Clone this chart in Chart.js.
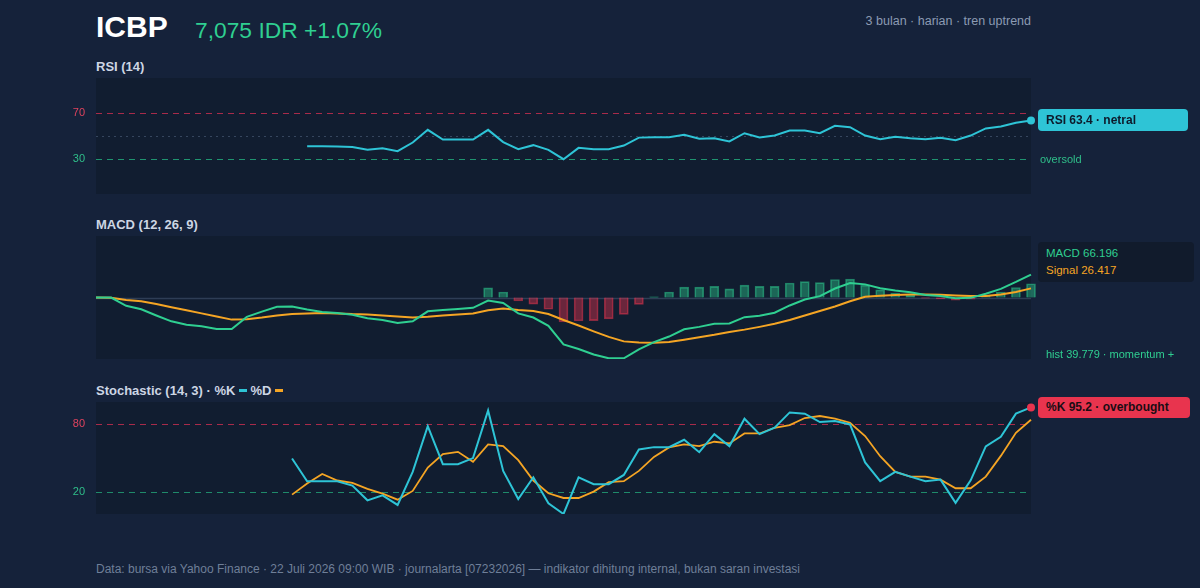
<!DOCTYPE html>
<html><head><meta charset="utf-8">
<script src="https://cdn.jsdelivr.net/npm/chart.js@4.4.1/dist/chart.umd.min.js"></script>
<style>
html,body{margin:0;padding:0;background:#15223a;width:1200px;height:588px;overflow:hidden;font-family:"Liberation Sans",Arial,sans-serif;}
.abs{position:absolute;white-space:nowrap;}
canvas{position:absolute;left:0;}
.ttl{font-size:13px;font-weight:bold;color:#cdd6e4;line-height:16px;}
.dash{display:inline-block;width:8px;height:3px;vertical-align:middle;margin:0 3px 2px 4px;}
</style></head><body>
<div class="abs" style="left:96px;top:10px;font-size:30px;font-weight:bold;color:#ffffff;line-height:34px">ICBP</div>
<div class="abs" style="left:195px;top:17px;font-size:22.8px;color:#2fcf91;line-height:26px">7,075 IDR +1.07%</div>
<div class="abs" style="right:169px;top:13px;font-size:12.5px;color:#8c9bb3;line-height:16px">3 bulan · harian · tren uptrend</div>

<div class="abs ttl" style="left:96px;top:59px">RSI (14)</div>
<div class="abs ttl" style="left:96px;top:217px">MACD (12, 26, 9)</div>
<div class="abs ttl" style="left:96px;top:383px">Stochastic (14, 3) · %K<span class="dash" style="background:#2ec4d6"></span>%D<span class="dash" style="background:#f5a524"></span></div>

<canvas id="rsi" width="1200" height="116" style="top:78px"></canvas>
<canvas id="macd" width="1200" height="123" style="top:236px"></canvas>
<canvas id="stoch" width="1200" height="112" style="top:402px"></canvas>

<div class="abs" style="left:1038px;top:109px;width:150px;height:22px;background:#2ec4d6;border-radius:4px;"></div>
<div class="abs" style="left:1046px;top:112px;font-size:12px;font-weight:bold;color:#0d1a2b;line-height:16px">RSI 63.4 · netral</div>
<div class="abs" style="left:1040px;top:151px;font-size:11px;color:#2fbf8a;line-height:16px">oversold</div>

<div class="abs" style="left:1038px;top:242px;width:156px;height:40px;background:#111b2c;border-radius:4px;"></div>
<div class="abs" style="left:1046px;top:245px;font-size:11.5px;color:#2fcf91;line-height:16px">MACD 66.196</div>
<div class="abs" style="left:1046px;top:262px;font-size:11.5px;color:#f5a524;line-height:16px">Signal 26.417</div>
<div class="abs" style="left:1046px;top:346px;font-size:11px;color:#2fcf91;line-height:16px">hist 39.779 · momentum +</div>

<div class="abs" style="left:1038px;top:397px;width:152px;height:21px;background:#e8344e;border-radius:4px;"></div>
<div class="abs" style="left:1046px;top:399px;font-size:12px;font-weight:bold;color:#1a0d14;line-height:16px">%K 95.2 · overbought</div>

<div class="abs" style="left:96px;top:561px;font-size:12px;color:#6f7f98;line-height:16px">Data: bursa via Yahoo Finance · 22 Juli 2026 09:00 WIB · journalarta [07232026] — indikator dihitung internal, bukan saran investasi</div>

<script>
// ---- data ----
const sessions = Array.from({length: 63}, (_, i) => 'D' + (i + 1));

const rsiValues = [null,null,null,null,null,null,null,null,null,null,null,null,null,null,
  41.2,41.2,41.0,40.6,38.1,39.5,36.9,44.4,55.3,47.0,47.0,47.0,55.3,44.7,38.6,42.1,38.1,30.0,39.8,38.6,38.6,41.8,
  48.6,49.0,49.0,51.0,47.6,48.1,45.3,52.4,48.7,50.4,54.7,54.7,52.4,58.8,57.6,50.4,47.3,49.3,48.1,47.3,48.4,46.4,50.4,56.5,58.2,61.4,63.4];
const rsiTicks = [30, 70];

const macdLine = [0,0,-24,-34,-52,-69,-79,-83,-91,-91,
  -56,-41,-27,-26,-35,-42,-45,-50,-60,-65,
  -74,-69,-40,-36,-33,-30,-9,-16,-46,-58,
  -82,-136,-149,-165,-176,-176,-150,-129,-113,-92,
  -85,-76,-75,-57,-53,-44,-23,-6,4,26,
  42,38,27,20,15,7,4,-2,-1,11,
  25,45,66.196];
const signalLine = [0,-1,-7,-11,-19,-28,-37,-46,-55,-64,
  -63,-58,-52,-48,-46,-45,-46,-48,-49,-52,
  -55,-58,-56,-52,-49,-46,-37,-32,-36,-39,
  -48,-65,-81,-98,-114,-127,-130,-131,-129,-122,
  -115,-108,-100,-93,-85,-76,-65,-52,-39,-26,
  -11,2,5,7,9,9,8,6,4,4,
  9,16,26.417];
const histValues = [null,null,null,null,null,null,null,null,null,null,null,null,null,null,null,null,null,null,null,null,null,null,null,null,null,null,
  28,16,-10,-19,-34,-71,-68,-67,-62,-49,
  -20,2,16,30,30,32,25,36,32,32,
  42,46,43,52,53,36,22,13,6,-2,
  -4,-8,-5,7,16,29,39.779];

const stochK = [null,null,null,null,null,null,null,null,null,null,null,null,null,
  49.6,29.3,29.3,29.3,25.4,12.2,16.7,8.1,37.6,78.5,44.5,44.5,49.9,92.5,38.5,13.4,32.8,9.6,0,32.8,26.6,26.6,34.9,
  57.6,59.7,59.7,66.3,55.2,71.3,60.6,85.1,71.3,77.0,90.7,89.6,82.1,83.0,80.0,46.0,29.3,37.6,33.4,29.3,30.7,9.9,30.1,60.3,69.0,89.6,95.2];
const stochD = [null,null,null,null,null,null,null,null,null,null,null,null,null,
  17.3,27.2,35.8,29.9,27.8,22.4,18.2,12.8,20.6,41.5,53.4,55.5,46.6,62.1,60.6,48.1,29.9,18.5,14.3,14.3,20.0,28.4,29.3,
  38.5,51.0,59.4,62.1,60.6,64.5,63.0,71.9,71.9,77.0,79.4,85.7,87.5,85.1,81.5,69.6,51.6,37.6,33.4,33.4,30.7,23.0,23.0,33.4,51.9,72.5,84.2];
const stochTicks = [20, 80];

// ---- style ----
const C = {cyan:'#2ec4d6', green:'#2fcf91', orange:'#f5a524', red:'#e8344e', plot:'#111d30'};
Chart.defaults.font.family = '"Liberation Sans", Arial, sans-serif';
Chart.defaults.animation = false;

const panelPlugin = {
  id: 'panel',
  beforeDraw(chart, args, opts) {
    const {ctx, chartArea: a} = chart;
    ctx.save();
    ctx.fillStyle = C.plot;
    ctx.fillRect(a.left, a.top, a.right - a.left, a.bottom - a.top);
    const y = chart.scales.y;
    (opts.lines || []).forEach(l => {
      const py = Math.round(y.getPixelForValue(l.value)) + 0.5;
      ctx.beginPath();
      ctx.setLineDash(l.dash || []);
      ctx.strokeStyle = l.color;
      ctx.lineWidth = l.width || 1;
      ctx.moveTo(a.left, py);
      ctx.lineTo(a.right, py);
      ctx.stroke();
    });
    ctx.restore();
  }
};

const last = sessions.length - 1;
const baseX = {type: 'category', display: false, offset: false};
function yAxis(min, max, ticks, hiColor, loColor) {
  return {
    min, max,
    grid: {display: false, drawTicks: false},
    border: {display: false},
    afterBuildTicks: s => { s.ticks = ticks.map(v => ({value: v})); },
    afterFit: s => { s.width = 96; s.paddingTop = 0; s.paddingBottom = 0; },
    ticks: {padding: 11, font: {size: 11}, color: c => (c.tick.value === ticks[1] ? hiColor : loColor)}
  };
}
const common = {
  responsive: false,
  plugins: {legend: {display: false}, tooltip: {enabled: false}},
  layout: {autoPadding: false, padding: {left: 0, right: 169, top: 0, bottom: 0}},
};

new Chart(document.getElementById('rsi'), {
  type: 'line',
  data: {labels: sessions, datasets: [{
    data: rsiValues, borderColor: C.cyan, borderWidth: 2, tension: 0, clip: false,
    pointRadius: c => (c.dataIndex === last ? 4 : 0), pointBackgroundColor: C.cyan, pointBorderWidth: 0
  }]},
  options: Object.assign({}, common, {
    scales: {x: baseX, y: yAxis(0, 100, rsiTicks, '#e0435e', '#2fbf8a')},
    plugins: Object.assign({}, common.plugins, {panel: {lines: [
      {value: 70, color: '#a82b4a', dash: [6, 5], width: 1.2},
      {value: 50, color: '#36465e', dash: [2, 4], width: 1.2},
      {value: 30, color: '#1f9470', dash: [6, 5], width: 1.2}
    ]}})
  }),
  plugins: [panelPlugin]
});

new Chart(document.getElementById('macd'), {
  type: 'bar',
  data: {labels: sessions, datasets: [
    {type: 'line', data: macdLine, borderColor: C.green, borderWidth: 2, tension: 0, pointRadius: 0, clip: false},
    {type: 'line', data: signalLine, borderColor: C.orange, borderWidth: 2, tension: 0, pointRadius: 0, clip: false},
    {type: 'bar', data: histValues, barThickness: 9, clip: false, borderWidth: 1,
      backgroundColor: histValues.map(v => (v >= 0 ? 'rgba(46,204,143,0.42)' : 'rgba(232,52,78,0.42)')),
      borderColor: histValues.map(v => (v >= 0 ? 'rgba(46,204,143,0.55)' : 'rgba(232,52,78,0.55)'))}
  ]},
  options: Object.assign({}, common, {
    layout: {autoPadding: false, padding: {left: 96, right: 169, top: 0, bottom: 0}},
    scales: {x: baseX, y: {display: false, min: -178, max: 178}},
    plugins: Object.assign({}, common.plugins, {panel: {lines: [
      {value: 0, color: '#2e3d55', dash: [], width: 1.5}
    ]}})
  }),
  plugins: [panelPlugin]
});

new Chart(document.getElementById('stoch'), {
  type: 'line',
  data: {labels: sessions, datasets: [
    {data: stochK, borderColor: C.cyan, borderWidth: 2, tension: 0, clip: false,
      pointRadius: c => (c.dataIndex === last ? 4 : 0), pointBackgroundColor: C.red, pointBorderWidth: 0},
    {data: stochD, borderColor: C.orange, borderWidth: 1.8, tension: 0, pointRadius: 0, clip: false}
  ]},
  options: Object.assign({}, common, {
    scales: {x: baseX, y: yAxis(0, 100, stochTicks, '#e0435e', '#2fbf8a')},
    plugins: Object.assign({}, common.plugins, {panel: {lines: [
      {value: 80, color: '#a82b4a', dash: [6, 5], width: 1.2},
      {value: 20, color: '#1f8a6a', dash: [6, 5], width: 1.2}
    ]}})
  }),
  plugins: [panelPlugin]
});
</script>
</body></html>
